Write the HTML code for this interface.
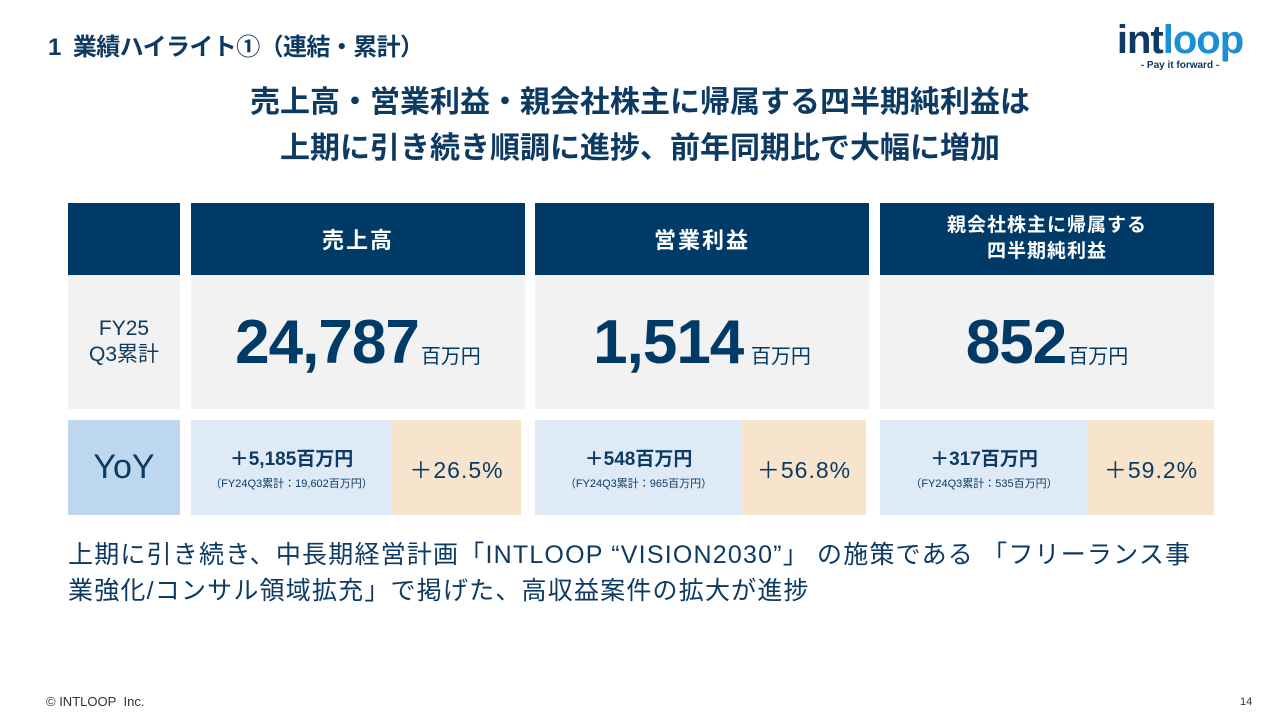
<!DOCTYPE html>
<html><head><meta charset="utf-8">
<style>
*{margin:0;padding:0;box-sizing:border-box}
body{width:1280px;height:720px;background:#fff;position:relative;overflow:hidden;font-family:"Liberation Sans","Noto Sans CJK JP",sans-serif;color:#0d3a63}
.a{position:absolute}
.c{display:flex;align-items:center;justify-content:center;text-align:center}
.hd{background:#003a66;color:#fff;font-size:22px;letter-spacing:2px;font-weight:bold}
.g{background:#f2f2f2}
.big{font-weight:bold;font-size:62px;color:#003a66;letter-spacing:-1px}
.u{font-size:20px;margin-left:2px;margin-top:24px;color:#003a66}
.lb{background:#deebf7;flex-direction:column}
.pk{background:#f7e4cc;font-size:23px;letter-spacing:1px}
.l1{font-size:19px;font-weight:bold}
.l2{font-size:11px;margin-top:4px}
</style></head><body>
<div class="a" style="left:48px;top:27px;font-size:24px;font-weight:bold;color:#0d3a63;letter-spacing:-0.6px">1&nbsp;&nbsp;業績ハイライト①（連結・累計）</div>
<div class="a" style="left:1110px;top:20px;width:140px;text-align:center">
<div style="font-size:40px;font-weight:bold;line-height:40px;letter-spacing:-1px"><span style="color:#0d3a63">int</span><span style="color:#1a8fd6">loop</span></div>
<div style="font-size:10px;font-weight:bold;color:#0d3a63">- Pay it forward -</div></div>
<div class="a" style="left:0;top:80px;width:1280px;text-align:center;font-size:30px;font-weight:bold;line-height:46px;color:#0d3a63">売上高・営業利益・親会社株主に帰属する四半期純利益は<br>上期に引き続き順調に進捗、前年同期比で大幅に増加</div>

<div class="a hd" style="left:68px;top:203px;width:112px;height:72px"></div>
<div class="a hd c" style="left:191px;top:203px;width:334px;height:72px">売上高</div>
<div class="a hd c" style="left:535px;top:203px;width:334px;height:72px">営業利益</div>
<div class="a hd c" style="left:880px;top:203px;width:334px;height:72px;font-size:19px;line-height:26px;letter-spacing:1px">親会社株主に帰属する<br>四半期純利益</div>

<div class="a g c" style="left:68px;top:275px;width:112px;height:134px;font-size:21px;line-height:26px">FY25<br>Q3累計</div>
<div class="a g c" style="left:191px;top:275px;width:334px;height:134px"><span class="big">24,787</span><span class="u">百万円</span></div>
<div class="a g c" style="left:535px;top:275px;width:334px;height:134px"><span class="big">1,514</span><span class="u">&nbsp;百万円</span></div>
<div class="a g c" style="left:880px;top:275px;width:334px;height:134px"><span class="big">852</span><span class="u">百万円</span></div>

<div class="a c" style="left:68px;top:420px;width:112px;height:95px;background:#bdd7ee;font-size:34px">YoY</div>
<div class="a c lb" style="left:191px;top:420px;width:201px;height:95px"><div class="l1">＋5,185百万円</div><div class="l2">（FY24Q3累計：19,602百万円）</div></div>
<div class="a c pk" style="left:392px;top:420px;width:129px;height:95px">＋26.5%</div>
<div class="a c lb" style="left:535px;top:420px;width:207px;height:95px"><div class="l1">＋548百万円</div><div class="l2">（FY24Q3累計：965百万円）</div></div>
<div class="a c pk" style="left:742px;top:420px;width:124px;height:95px">＋56.8%</div>
<div class="a c lb" style="left:880px;top:420px;width:208px;height:95px"><div class="l1">＋317百万円</div><div class="l2">（FY24Q3累計：535百万円）</div></div>
<div class="a c pk" style="left:1088px;top:420px;width:126px;height:95px">＋59.2%</div>

<div class="a" style="left:68px;top:537px;width:1180px;font-size:25px;letter-spacing:1.2px;line-height:36px;color:#0d3a63;white-space:nowrap">上期に引き続き、中長期経営計画「INTLOOP “VISION2030”」 の施策である 「フリーランス事<br>業強化/コンサル領域拡充」で掲げた、高収益案件の拡大が進捗</div>
<div class="a" style="left:46px;top:694px;font-size:13px;color:#333">© INTLOOP&nbsp; Inc.</div>
<div class="a" style="left:1240px;top:696px;font-size:11px;color:#333">14</div>
</body></html>
